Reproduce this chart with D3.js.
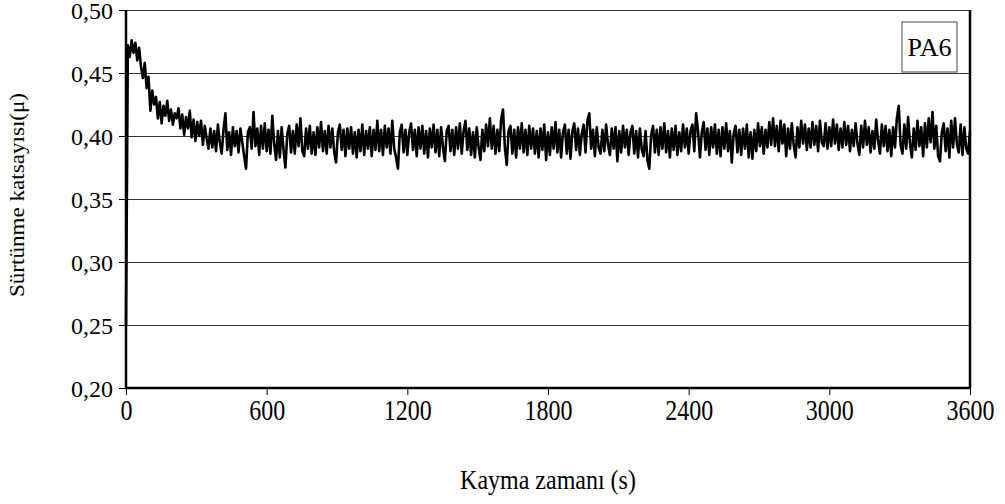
<!DOCTYPE html>
<html>
<head>
<meta charset="utf-8">
<script src="https://cdn.jsdelivr.net/npm/d3@7/dist/d3.min.js"></script>
<style>
  html, body { margin: 0; padding: 0; background: #fff; }
  svg { display: block; }
  svg text { font-family: "Liberation Serif", "Times New Roman", "DejaVu Serif", serif; fill: #000; }
</style>
</head>
<body>
<svg id="chart" width="1005" height="504"></svg>
<script>
// Friction coefficient of PA6 versus sliding time, sampled every 8 s (values in thousandths).
const sampleStep = 8;
const frictionMilli = [
  250, 472, 463, 476, 466, 474, 460, 470, 455, 446, 458, 438, 447, 420, 436,
  425, 431, 414, 427, 410, 424, 416, 428, 412, 421, 409, 418, 414, 422, 406,
  417, 401, 415, 406, 420, 399, 413, 396, 411, 400, 412, 393, 408, 398, 390,
  406, 391, 404, 388, 409, 395, 386, 405, 418, 389, 403, 385, 407, 392, 404,
  387, 406, 395, 384, 374, 403, 407, 390, 419, 392, 406, 385, 408, 390, 410,
  388, 405, 386, 416, 394, 381, 404, 383, 407, 389, 375, 402, 408, 387, 404,
  386, 409, 392, 414, 388, 384, 406, 390, 408, 386, 403, 385, 407, 391, 411,
  388, 404, 386, 408, 391, 406, 387, 379, 403, 409, 389, 405, 384, 406, 390,
  407, 386, 403, 383, 405, 388, 409, 385, 404, 390, 407, 384, 405, 389, 412,
  388, 405, 385, 408, 391, 406, 386, 412, 390, 383, 374, 403, 409, 387, 405,
  385, 403, 410, 389, 405, 384, 407, 390, 408, 386, 404, 383, 406, 391, 409,
  387, 405, 384, 407, 391, 380, 404, 408, 388, 405, 385, 407, 390, 410, 386,
  404, 412, 389, 406, 385, 403, 383, 407, 391, 381, 405, 388, 409, 392, 414,
  390, 408, 386, 405, 388, 413, 421, 391, 377, 404, 408, 386, 405, 383, 407,
  390, 410, 387, 405, 385, 408, 390, 406, 386, 404, 383, 406, 389, 409, 381,
  403, 385, 407, 390, 411, 387, 405, 383, 403, 409, 386, 405, 382, 404, 410,
  389, 406, 385, 402, 409, 387, 412, 418, 390, 405, 384, 407, 391, 386, 405,
  388, 409, 393, 385, 406, 390, 407, 380, 404, 387, 408, 391, 405, 385, 403,
  408, 386, 404, 383, 406, 389, 384, 404, 381, 374, 401, 408, 387, 405, 385,
  407, 390, 410, 387, 404, 383, 406, 389, 408, 385, 403, 388, 409, 391, 406,
  386, 404, 409, 388, 418, 404, 383, 403, 411, 389, 406, 385, 407, 391, 409,
  386, 405, 384, 407, 390, 410, 388, 404, 379, 402, 408, 387, 405, 385, 406,
  390, 409, 383, 403, 382, 405, 388, 410, 392, 407, 386, 405, 391, 411, 393,
  414, 392, 408, 388, 412, 394, 409, 384, 406, 390, 410, 393, 383, 407, 391,
  412, 394, 409, 389, 406, 391, 411, 393, 408, 388, 412, 395, 392, 410, 390,
  407, 392, 413, 394, 409, 389, 406, 391, 411, 393, 408, 388, 405, 392, 410,
  394, 385, 408, 391, 412, 393, 407, 387, 404, 390, 413, 396, 386, 409, 392,
  408, 388, 405, 384, 407, 391, 414, 424, 393, 386, 409, 390, 415, 394, 383,
  406, 389, 412, 392, 407, 384, 410, 391, 414, 395, 419, 390, 408, 384, 380,
  403, 410, 388, 406, 383, 412, 391, 414, 394, 387, 409, 385, 407, 390, 386,
  404
];

const xTickValues = [0, 600, 1200, 1800, 2400, 3000, 3600];
const yTickValues = [0.20, 0.25, 0.30, 0.35, 0.40, 0.45, 0.50];
const seriesName = "PA6";
const xTitle = "Kayma zamanı (s)";
const yTitle = "Sürtünme katsayısı(μ)";

const points = frictionMilli.map((v, i) => ({ t: i * sampleStep, mu: v / 1000 }));

const svg = d3.select("#chart");
const plot = { left: 126, right: 970, top: 10, bottom: 388 };

const x = d3.scaleLinear().domain([0, 3600]).range([plot.left, plot.right]);
const y = d3.scaleLinear().domain([0.20, 0.50]).range([plot.bottom, plot.top]);

const trLocale = d3.formatLocale({ decimal: ",", thousands: "", grouping: [3], currency: ["", ""] });
const fmtY = trLocale.format(".2f");
const serif = '"Liberation Serif", "Times New Roman", serif';

// horizontal gridlines
svg.append("g")
  .selectAll("line")
  .data(yTickValues.filter(v => v > 0.2))
  .join("line")
  .attr("x1", plot.left).attr("x2", plot.right)
  .attr("y1", d => Math.round(y(d)) + 0.5).attr("y2", d => Math.round(y(d)) + 0.5)
  .attr("stroke", "#333").attr("stroke-width", 1);

// y axis
const yAxis = svg.append("g")
  .attr("transform", `translate(${plot.left},0)`)
  .call(d3.axisLeft(y).tickValues(yTickValues).tickFormat(fmtY).tickSize(7).tickPadding(6));
yAxis.attr("font-family", serif);
yAxis.select(".domain").remove();
yAxis.selectAll(".tick line").attr("stroke", "#000").attr("stroke-width", 1);
yAxis.selectAll(".tick text").attr("font-size", 24).attr("dy", "0.34em");

// x axis
const xAxis = svg.append("g")
  .attr("transform", `translate(0,${plot.bottom})`)
  .call(d3.axisBottom(x).tickValues(xTickValues).tickFormat(d3.format("d")).tickSize(7));
xAxis.attr("font-family", serif);
xAxis.select(".domain").remove();
xAxis.selectAll(".tick line").attr("stroke", "#000").attr("stroke-width", 1);
xAxis.selectAll(".tick text")
  .attr("font-size", 24)
  .attr("y", 10)
  .attr("transform", "scale(1,1.2)");

// data line
const line = d3.line().x(d => x(d.t)).y(d => y(d.mu));
svg.append("path")
  .datum(points)
  .attr("fill", "none")
  .attr("stroke", "#000")
  .attr("stroke-width", 2.6)
  .attr("stroke-linejoin", "round")
  .attr("d", line);

// plot frame: left, bottom, right
svg.append("line").attr("x1", plot.left).attr("x2", plot.left)
  .attr("y1", plot.top).attr("y2", plot.bottom + 1)
  .attr("stroke", "#000").attr("stroke-width", 2.5);
svg.append("line").attr("x1", plot.left - 1).attr("x2", plot.right + 1)
  .attr("y1", plot.bottom).attr("y2", plot.bottom)
  .attr("stroke", "#000").attr("stroke-width", 2.5);
svg.append("line").attr("x1", plot.right).attr("x2", plot.right)
  .attr("y1", plot.top).attr("y2", plot.bottom)
  .attr("stroke", "#000").attr("stroke-width", 2.5);

// legend box
const legend = svg.append("g").attr("transform", "translate(902,22)");
legend.append("rect").attr("width", 55).attr("height", 50)
  .attr("fill", "#fff").attr("stroke", "#444").attr("stroke-width", 1);
legend.append("text").attr("x", 27.5).attr("y", 34)
  .attr("text-anchor", "middle").attr("font-size", 26).text(seriesName);

// axis titles
svg.append("text")
  .attr("transform", `translate(${(plot.left + plot.right) / 2},489) scale(1,1.15)`)
  .attr("text-anchor", "middle").attr("font-size", 24).text(xTitle);
svg.append("text")
  .attr("transform", `translate(24,${(plot.top + plot.bottom) / 2 - 4}) rotate(-90) scale(1.1,1)`)
  .attr("text-anchor", "middle").attr("font-size", 21).text(yTitle);
</script>
</body>
</html>
